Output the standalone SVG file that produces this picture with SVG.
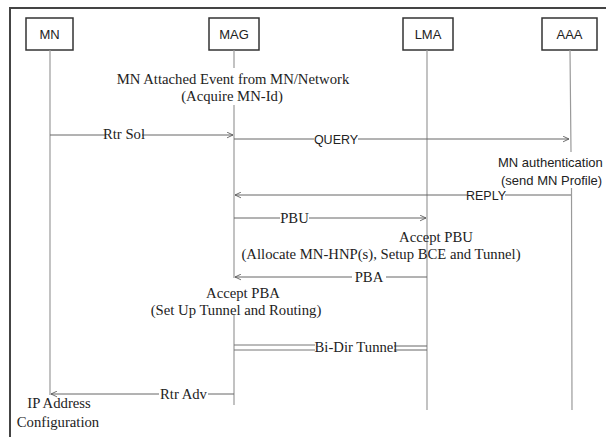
<svg xmlns="http://www.w3.org/2000/svg" width="606" height="437" viewBox="0 0 606 437">
<defs>
<marker id="open" viewBox="0 0 10 10" refX="9.5" refY="5" markerWidth="7" markerHeight="7" markerUnits="userSpaceOnUse" orient="auto">
<path d="M1,1 L9.5,5 L1,9" fill="none" stroke="#555" stroke-width="1.2"/>
</marker>
</defs>
<style>
.box{fill:#fff;stroke:#333;stroke-width:1.5}
.life{stroke:#9a9a9a;stroke-width:1.2;fill:none}
.msg{stroke:#666;stroke-width:1;fill:none}
.tun{stroke:#777;stroke-width:1;fill:none}
.sans{font-family:"Liberation Sans",Arial,sans-serif;font-size:13px;fill:#222}
.small{font-size:12.5px}
.serif{font-family:"Liberation Serif","Times New Roman",serif;font-size:14.7px;fill:#222}
.lbl{fill:#fff}
</style>
<rect width="606" height="437" fill="#fff"/>
<g id="frame">
<path d="M10,437 V8 H606" fill="none" stroke="#444" stroke-width="2"/>
</g>
<g id="MN">
<rect class="box" x="26" y="18" width="47" height="32"/>
<text class="sans" x="49.5" y="39" text-anchor="middle">MN</text>
<line class="life" x1="50" y1="50" x2="50" y2="395"/>
</g>
<g id="MAG">
<rect class="box" x="209" y="18" width="50" height="32"/>
<text class="sans" x="234" y="39" text-anchor="middle">MAG</text>
<path class="life" d="M234,50 V68 M234,105 V278 M234,315 V405"/>
</g>
<g id="LMA">
<rect class="box" x="403" y="18" width="50" height="32"/>
<text class="sans" x="428" y="39" text-anchor="middle">LMA</text>
<line class="life" x1="427" y1="50" x2="427" y2="410"/>
</g>
<g id="AAA">
<rect class="box" x="542" y="18" width="55" height="32"/>
<text class="sans" x="569.5" y="39" text-anchor="middle">AAA</text>
<path class="life" d="M570,50 L571,152 M571.5,188 L572,410"/>
</g>
<g id="notes">
<text class="serif" x="233" y="84" text-anchor="middle">MN Attached Event from MN/Network</text>
<text class="serif" x="232" y="101" text-anchor="middle">(Acquire MN-Id)</text>
<text class="sans" x="498" y="167">MN authentication</text>
<text class="sans" x="501" y="185">(send MN Profile)</text>
<text class="serif" x="436" y="242" text-anchor="middle">Accept PBU</text>
<text class="serif" x="381" y="259" text-anchor="middle">(Allocate MN-HNP(s), Setup BCE and Tunnel)</text>
<text class="serif" x="243" y="298" text-anchor="middle">Accept PBA</text>
<text class="serif" x="236" y="315" text-anchor="middle">(Set Up Tunnel and Routing)</text>
<text class="serif" x="59" y="408" text-anchor="middle">IP Address</text>
<text class="serif" x="58" y="427" text-anchor="middle">Configuration</text>
</g>
<g id="connectors">
<line class="msg" x1="50" y1="135" x2="233" y2="135" marker-end="url(#open)"/>
<rect class="lbl" x="106" y="127" width="36" height="14"/>
<text class="serif" x="124" y="139" text-anchor="middle">Rtr Sol</text>

<line class="msg" x1="234" y1="139" x2="569" y2="139" marker-end="url(#open)"/>
<rect class="lbl" x="314" y="132" width="44" height="14"/>
<text class="sans small" x="336" y="144" text-anchor="middle">QUERY</text>

<line class="msg" x1="571" y1="195" x2="235" y2="195" marker-end="url(#open)"/>
<rect class="lbl" x="467" y="188" width="38" height="14"/>
<text class="sans small" x="486" y="200" text-anchor="middle">REPLY</text>

<line class="msg" x1="234" y1="218" x2="426" y2="218" marker-end="url(#open)"/>
<rect class="lbl" x="280" y="211" width="29" height="14"/>
<text class="serif" x="294.5" y="223" text-anchor="middle">PBU</text>

<line class="msg" x1="427" y1="277" x2="235" y2="277" marker-end="url(#open)"/>
<rect class="lbl" x="352" y="270" width="34" height="14"/>
<text class="serif" x="369" y="282" text-anchor="middle">PBA</text>

<path class="tun" d="M234,345 H315 M234,350 H315"/>
<path class="msg" d="M394,346 H427 M394,350 H427" stroke="#444"/>
<text class="serif" x="356" y="352" text-anchor="middle">Bi-Dir Tunnel</text>

<line class="msg" x1="234" y1="394" x2="51" y2="394" marker-end="url(#open)"/>
<rect class="lbl" x="159" y="387" width="49" height="14"/>
<text class="serif" x="183.5" y="399" text-anchor="middle">Rtr Adv</text>
</g>
</svg>
